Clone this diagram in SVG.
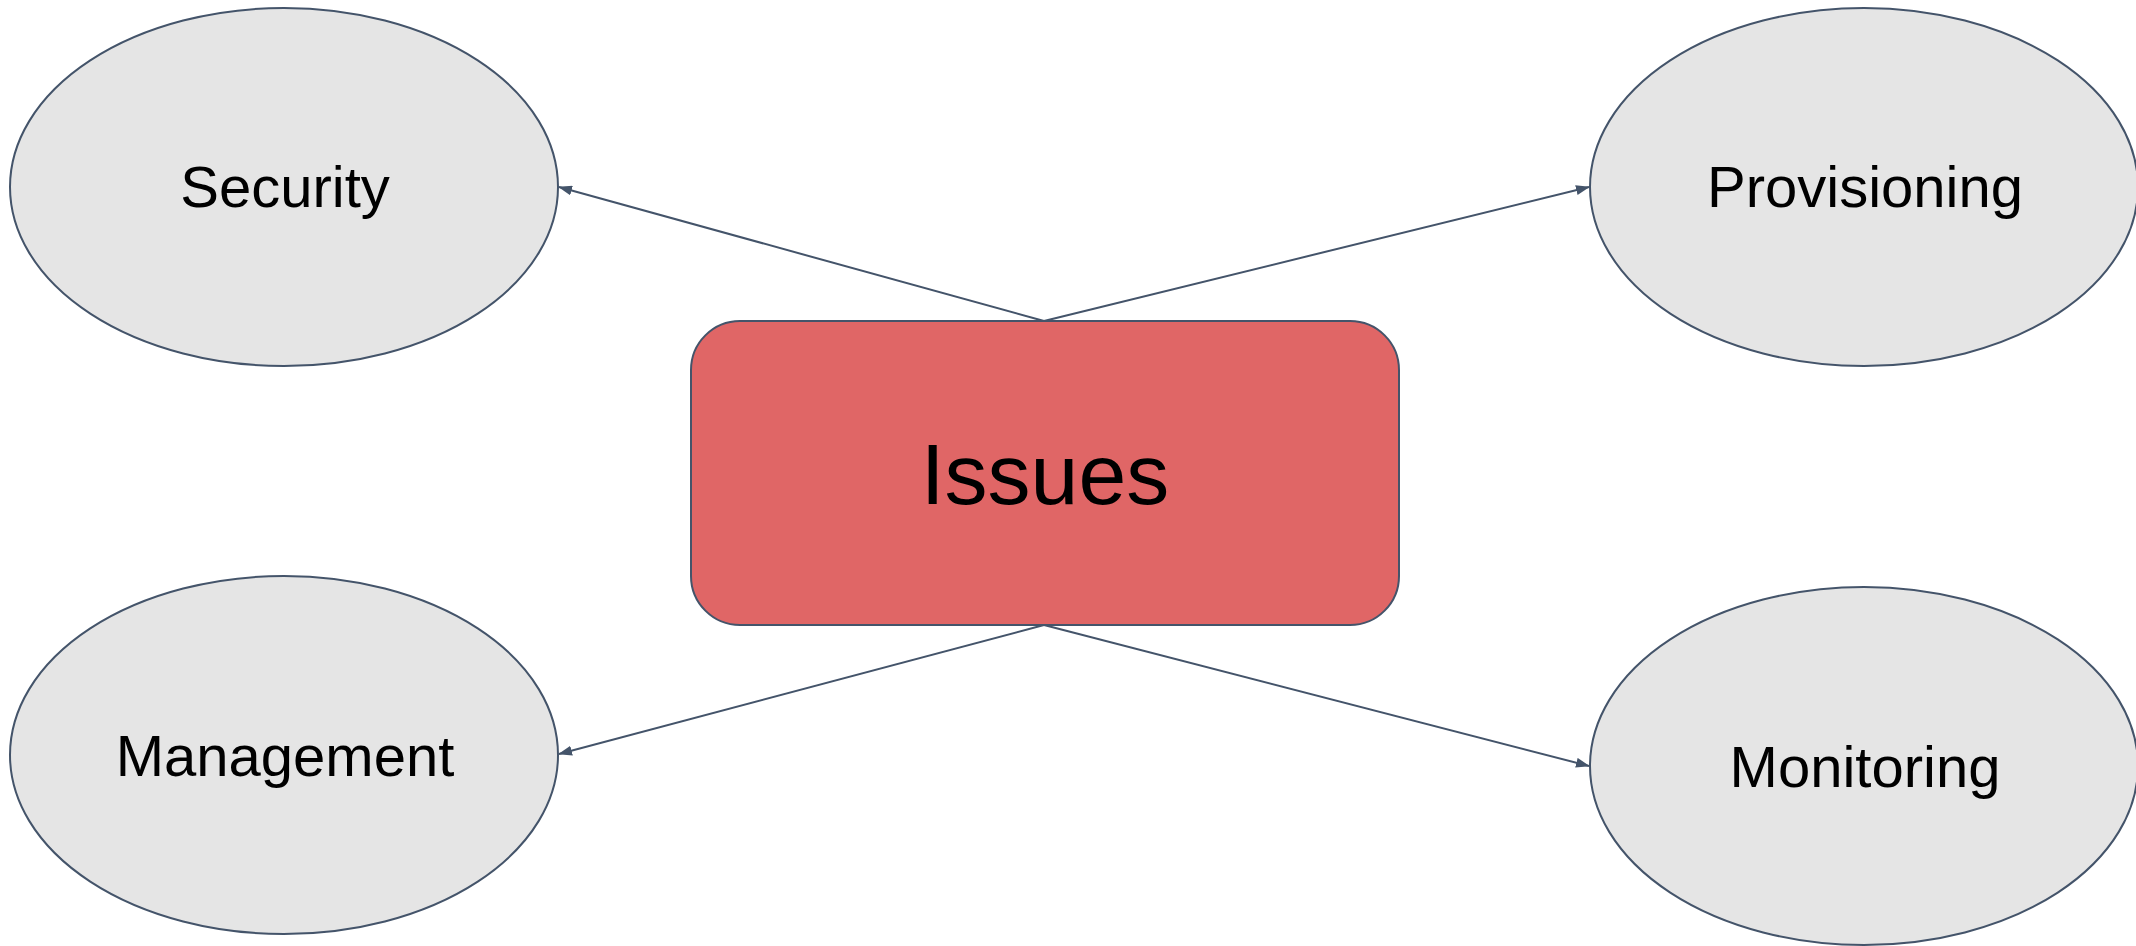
<svg xmlns="http://www.w3.org/2000/svg" width="2136" height="946" viewBox="0 0 2136 946">
<style>
.node{fill:#E5E5E5;stroke:#44546A;stroke-width:2}
.main{fill:#E06666;stroke:#44546A;stroke-width:2}
.lbl{font-family:"Liberation Sans",Arial,sans-serif;fill:#000;text-anchor:middle}
.edge{stroke:#44546A;stroke-width:2;fill:none;marker-end:url(#arr)}
</style>
<defs>
<marker id="arr" markerUnits="userSpaceOnUse" markerWidth="14" markerHeight="10" refX="13" refY="5" orient="auto">
<path d="M0,0 L14,5 L0,10 Z" fill="#44546A"/>
</marker>
</defs>
<rect width="2136" height="946" fill="#fff"/>
<g id="connectors">
<line class="edge" x1="1044" y1="321" x2="559" y2="187"/>
<line class="edge" x1="1044" y1="321" x2="1589" y2="187"/>
<line class="edge" x1="1044" y1="625" x2="559" y2="754"/>
<line class="edge" x1="1044" y1="625" x2="1589" y2="766"/>
</g>
<g id="security">
<ellipse class="node" cx="284" cy="187" rx="274" ry="179"/>
<text class="lbl" x="285" y="207" font-size="58">Security</text>
</g>
<g id="provisioning">
<ellipse class="node" cx="1864" cy="187" rx="274" ry="179"/>
<text class="lbl" x="1865" y="207" font-size="58">Provisioning</text>
</g>
<g id="management">
<ellipse class="node" cx="284" cy="755" rx="274" ry="179"/>
<text class="lbl" x="285" y="776" font-size="58">Management</text>
</g>
<g id="monitoring">
<ellipse class="node" cx="1864" cy="766" rx="274" ry="179"/>
<text class="lbl" x="1865" y="787" font-size="58">Monitoring</text>
</g>
<g id="issues">
<rect class="main" x="691" y="321" width="708" height="304" rx="49" ry="49"/>
<text class="lbl" x="1045" y="504" font-size="86">Issues</text>
</g>
</svg>
